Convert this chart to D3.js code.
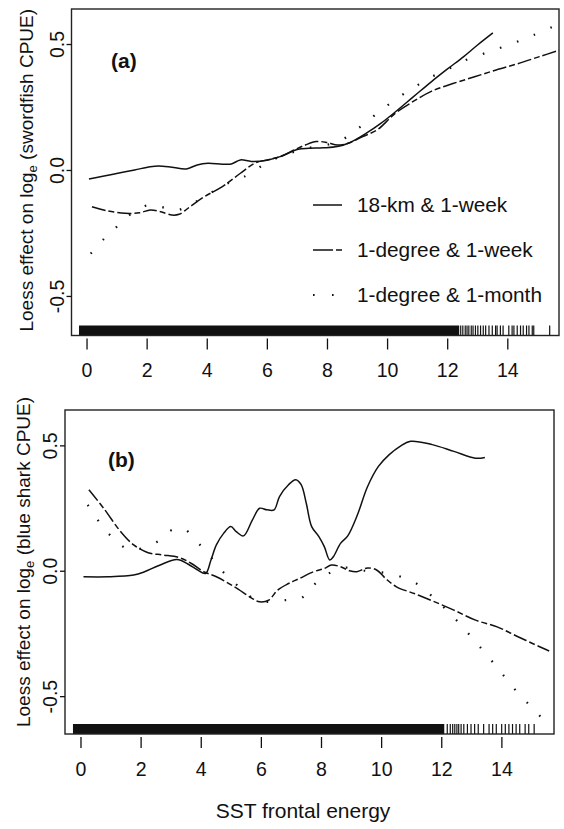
<!DOCTYPE html>
<html>
<head>
<meta charset="utf-8">
<script src="https://cdn.jsdelivr.net/npm/d3@7"></script>
<style>
  html, body { margin: 0; padding: 0; background: #fff; }
  svg { display: block; }
  text { font-family: "Liberation Sans", Arial, Helvetica, sans-serif; fill: #111; }
</style>
</head>
<body>
<svg id="chart" width="564" height="829"></svg>
<script>
// Axis ticks shared by both panels
const xTicks = [0, 2, 4, 6, 8, 10, 12, 14];
const yTicks = [-0.5, 0, 0.5];
const yTickLabels = ["-0.5", "0.0", "0.5"];

// Legend entries
const seriesNames = ["18-km & 1-week", "1-degree & 1-week", "1-degree & 1-month"];

// (a) swordfish: loess effect vs SST frontal energy
const swordKm1wk = [[0.08,-0.036],[0.5,-0.026],[1.04,-0.013],[1.6,0.0],[2.12,0.013],[2.4,0.016],[2.84,0.011],[3.32,0.004],[3.68,0.02],[4.04,0.027],[4.52,0.023],[4.82,0.024],[5.12,0.04],[5.48,0.034],[5.96,0.038],[6.44,0.053],[7.04,0.082],[7.4,0.086],[7.87,0.088],[8.35,0.093],[8.77,0.109],[9.31,0.146],[9.79,0.185],[10.27,0.23],[10.87,0.29],[11.47,0.35],[12.0,0.40],[12.55,0.45],[13.0,0.495],[13.52,0.544]];
const swordDeg1wk = [[0.18,-0.146],[0.68,-0.162],[1.28,-0.172],[1.76,-0.17],[2.12,-0.159],[2.42,-0.164],[2.84,-0.179],[3.08,-0.176],[3.44,-0.146],[3.92,-0.106],[4.52,-0.066],[5.12,-0.013],[5.6,0.027],[6.08,0.042],[6.44,0.053],[6.92,0.08],[7.28,0.099],[7.64,0.113],[8.0,0.109],[8.35,0.099],[8.71,0.106],[9.19,0.133],[9.67,0.159],[10.27,0.225],[10.87,0.272],[11.47,0.312],[12.19,0.343],[12.91,0.37],[13.63,0.397],[14.35,0.422],[15.07,0.45],[15.72,0.475]];
const swordDeg1mo = [[0.14,-0.332],[0.56,-0.276],[0.95,-0.232],[1.28,-0.192],[1.7,-0.159],[2.12,-0.137],[2.6,-0.15],[3.0,-0.16],[3.5,-0.135],[4.0,-0.1],[4.5,-0.066],[5.0,-0.035],[5.24,-0.027],[5.66,0.003],[6.0,0.03],[6.5,0.055],[7.0,0.075],[7.5,0.09],[8.0,0.1],[8.59,0.126],[9.01,0.162],[9.43,0.202],[9.89,0.245],[10.37,0.288],[10.87,0.325],[11.35,0.362],[11.95,0.395],[12.49,0.43],[13.1,0.457],[13.7,0.482],[14.3,0.508],[14.9,0.537],[15.48,0.567]];

// (b) blue shark: loess effect vs SST frontal energy
const sharkKm1wk = [[0.1,-0.024],[0.93,-0.024],[1.77,-0.017],[2.13,-0.004],[2.61,0.021],[3.21,0.045],[3.57,0.027],[3.87,0.005],[4.16,-0.011],[4.34,0.043],[4.52,0.103],[4.76,0.149],[5.0,0.176],[5.18,0.156],[5.42,0.139],[5.72,0.203],[5.96,0.249],[6.2,0.243],[6.44,0.243],[6.62,0.296],[6.92,0.343],[7.16,0.363],[7.34,0.343],[7.51,0.269],[7.69,0.176],[7.93,0.136],[8.11,0.096],[8.29,0.043],[8.41,0.056],[8.65,0.109],[8.89,0.139],[9.19,0.216],[9.55,0.336],[9.91,0.416],[10.27,0.463],[10.63,0.496],[10.98,0.516],[11.7,0.503],[12.42,0.476],[13.14,0.449],[13.45,0.452]];
const sharkDeg1wk = [[0.28,0.323],[0.81,0.243],[1.29,0.163],[1.77,0.103],[2.25,0.072],[2.73,0.063],[3.27,0.053],[3.69,0.029],[4.1,-0.004],[4.52,-0.024],[5.12,-0.064],[5.72,-0.111],[5.96,-0.124],[6.26,-0.117],[6.56,-0.077],[6.92,-0.051],[7.28,-0.031],[7.75,-0.004],[8.11,0.009],[8.35,0.023],[8.65,0.016],[8.95,0.0],[9.19,-0.004],[9.55,0.011],[9.85,0.003],[10.15,-0.031],[10.51,-0.064],[11.1,-0.091],[11.7,-0.12],[12.42,-0.157],[13.14,-0.197],[13.86,-0.224],[14.57,-0.264],[15.29,-0.304],[15.59,-0.32]];
const sharkDeg1mo = [[0.24,0.263],[0.57,0.203],[0.91,0.152],[1.26,0.109],[1.68,0.083],[2.19,0.096],[2.61,0.12],[3.0,0.16],[3.25,0.17],[3.5,0.163],[3.81,0.123],[4.14,0.083],[4.46,0.036],[4.79,-0.011],[5.15,-0.051],[5.48,-0.088],[5.84,-0.115],[6.3,-0.125],[6.83,-0.117],[7.33,-0.111],[7.66,-0.067],[8.03,-0.031],[8.41,-0.001],[8.89,0.013],[9.47,0.0],[10.09,-0.008],[10.66,-0.024],[11.2,-0.053],[11.68,-0.1],[12.12,-0.15],[12.56,-0.204],[12.98,-0.261],[13.38,-0.317],[13.8,-0.377],[14.19,-0.435],[14.59,-0.493],[15.03,-0.547],[15.45,-0.601]];

// Rug of observed frontal-energy values: a solid band where ticks merge, then single ticks
const rugBandA = [-0.25, 12.4];
const rugTicksA = [12.45,12.52,12.6,12.66,12.72,12.8,12.86,12.94,13.02,13.11,13.2,13.28,13.39,13.5,13.61,13.66,13.77,13.86,14.05,14.16,14.22,14.33,14.44,14.53,14.64,14.72,14.83,14.88,15.41];
const rugBandB = [-0.25, 12.1];
const rugTicksB = [12.2,12.3,12.38,12.45,12.52,12.58,12.66,12.75,12.87,12.99,13.11,13.23,13.41,13.59,13.71,13.83,14.01,14.13,14.25,14.37,14.49,14.61,14.79,14.91,15.09];

const svg = d3.select("#chart");
const ink = "#111";

// Line styles: solid, long-short dash, sparse dots
const styles = [
  { dash: null, width: 1.5, cap: "butt" },
  { dash: "14 3 6 3", width: 1.5, cap: "butt" },
  { dash: "1.6 16.5", width: 2.2, cap: "butt" }
];

function panel(cfg) {
  const x = d3.scaleLinear().domain(cfg.xDomain).range([cfg.left, cfg.right]);
  const y = d3.scaleLinear().domain(cfg.yDomain).range([cfg.bottom, cfg.top]);
  const g = svg.append("g");

  const clipId = "clip-" + cfg.id;
  g.append("clipPath").attr("id", clipId)
    .append("rect")
    .attr("x", cfg.left).attr("y", cfg.top)
    .attr("width", cfg.right - cfg.left).attr("height", cfg.bottom - cfg.top);

  // Curves
  const line = d3.line().x(d => x(d[0])).y(d => y(d[1])).curve(d3.curveCatmullRom.alpha(0.5));
  const plot = g.append("g").attr("clip-path", `url(#${clipId})`);
  cfg.series.forEach((s, i) => {
    plot.append("path")
      .attr("d", line(s))
      .attr("fill", "none")
      .attr("stroke", ink)
      .attr("stroke-width", styles[i].width)
      .attr("stroke-linecap", styles[i].cap)
      .attr("stroke-dasharray", styles[i].dash);
  });

  // Rug
  const rugH = 10;
  plot.append("rect")
    .attr("x", x(cfg.rugBand[0]))
    .attr("y", cfg.bottom - rugH)
    .attr("width", x(cfg.rugBand[1]) - x(cfg.rugBand[0]))
    .attr("height", rugH)
    .attr("fill", ink);
  plot.selectAll("line.rug").data(cfg.rugTicks).join("line")
    .attr("class", "rug")
    .attr("x1", d => x(d)).attr("x2", d => x(d))
    .attr("y1", cfg.bottom - rugH).attr("y2", cfg.bottom)
    .attr("stroke", ink).attr("stroke-width", 1.2);

  // Frame
  g.append("rect")
    .attr("x", cfg.left).attr("y", cfg.top)
    .attr("width", cfg.right - cfg.left).attr("height", cfg.bottom - cfg.top)
    .attr("fill", "none").attr("stroke", "#222").attr("stroke-width", 1.4);

  // Bottom axis: ticks detached from the frame, no axis line
  const xAxis = d3.axisBottom(x).tickValues(xTicks).tickSize(11).tickPadding(14).tickFormat(d3.format("d"));
  const xa = g.append("g").attr("transform", `translate(0,${cfg.bottom + 3})`).call(xAxis);
  xa.select(".domain").remove();
  xa.selectAll(".tick line").attr("stroke", ink).attr("stroke-width", 1.3);
  xa.selectAll(".tick text").attr("font-size", 19.5).attr("fill", ink)
    .attr("font-family", "Liberation Sans, Arial, sans-serif");

  // Left axis: short outward ticks, rotated labels
  const yAxis = d3.axisLeft(y).tickValues(yTicks).tickSize(5).tickFormat((d, i) => yTickLabels[i]);
  const ya = g.append("g").attr("transform", `translate(${cfg.left},0)`).call(yAxis);
  ya.select(".domain").remove();
  ya.selectAll(".tick line").attr("stroke", ink).attr("stroke-width", 1.3);
  ya.selectAll(".tick text")
    .attr("font-size", 19.5).attr("fill", ink)
    .attr("font-family", "Liberation Sans, Arial, sans-serif")
    .attr("text-anchor", "middle")
    .attr("dy", null)
    .attr("x", null)
    .attr("transform", `translate(${cfg.yLabelX - cfg.left},0) rotate(-90)`);

  // Axis title
  const t = g.append("text")
    .attr("transform", `translate(${cfg.titleX},${(cfg.top + cfg.bottom) / 2 + cfg.titleShift}) rotate(-90)`)
    .attr("text-anchor", "middle")
    .attr("font-size", 19);
  t.append("tspan").text("Loess effect on log");
  t.append("tspan").text("e").attr("font-size", 13).attr("dy", 4);
  t.append("tspan").text(" (" + cfg.species + " CPUE)").attr("dy", -4);

  // Panel tag
  g.append("text")
    .attr("x", cfg.tagX).attr("y", cfg.tagY)
    .attr("font-size", 21).attr("font-weight", "bold")
    .text(cfg.tag);

  return { x, y, g };
}

panel({
  id: "a", tag: "(a)", species: "swordfish",
  left: 71.5, right: 559, top: 9, bottom: 335.5,
  xDomain: [-0.5, 15.72], yDomain: [-0.657, 0.639],
  series: [swordKm1wk, swordDeg1wk, swordDeg1mo],
  rugBand: rugBandA, rugTicks: rugTicksA,
  yLabelX: 64, titleX: 33, titleShift: -2,
  tagX: 111, tagY: 68
});

panel({
  id: "b", tag: "(b)", species: "blue shark",
  left: 65, right: 554, top: 410, bottom: 734,
  xDomain: [-0.515, 15.75], yDomain: [-0.651, 0.641],
  series: [sharkKm1wk, sharkDeg1wk, sharkDeg1mo],
  rugBand: rugBandB, rugTicks: rugTicksB,
  yLabelX: 57, titleX: 30, titleShift: -10,
  tagX: 108, tagY: 467
});

// Legend inside panel (a)
const legend = svg.append("g");
const legendRows = [205, 250, 295];
seriesNames.forEach((name, i) => {
  const yy = legendRows[i];
  legend.append("line")
    .attr("x1", 313).attr("x2", 342).attr("y1", yy).attr("y2", yy)
    .attr("stroke", ink)
    .attr("stroke-width", styles[i].width)
    .attr("stroke-dasharray", i === 1 ? "20 3 6 10" : (i === 2 ? "1.6 17.4" : null));
  legend.append("text")
    .attr("x", 357).attr("y", yy + 7)
    .attr("font-size", 20.8)
    .text(name);
});

// Shared x-axis title
svg.append("text")
  .attr("x", 303).attr("y", 818)
  .attr("text-anchor", "middle")
  .attr("font-size", 21)
  .text("SST frontal energy");
</script>
</body>
</html>
